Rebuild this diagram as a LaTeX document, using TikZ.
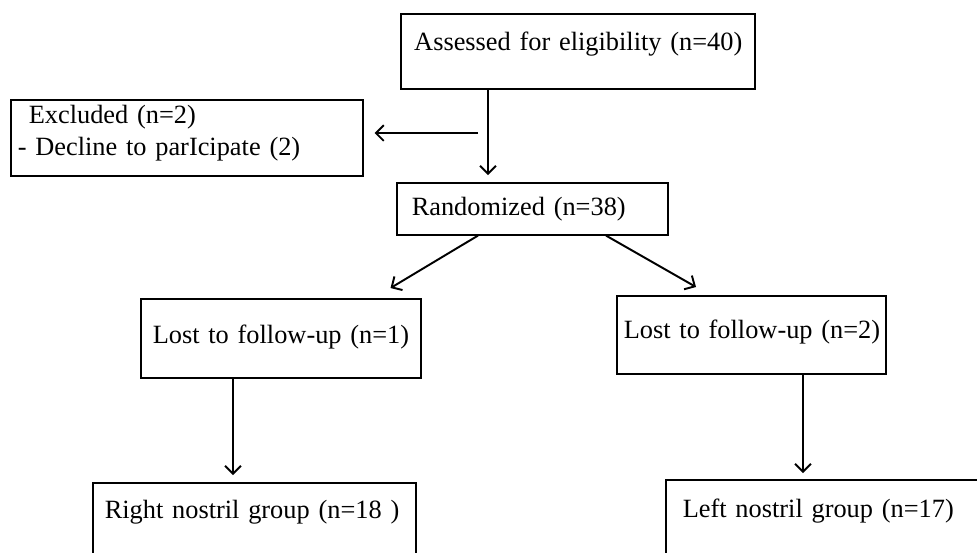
\documentclass[tikz,border=0pt]{standalone}
\usepackage{fontspec}
\setmainfont{Liberation Serif}
\usetikzlibrary{arrows.meta,calc}

\begin{document}
\begin{tikzpicture}[x=0.02cm, y=-0.02cm,
	box/.style={draw, line width=0.9pt, anchor=north west, inner ysep=0pt, inner xsep=0.04cm, align=left,
		font=\fontsize{15}{18.2}\selectfont, execute at begin node={\hspace*{#1}}},
	arr/.style={line width=1.1pt, -{Straight Barb[length=4.5pt,width=9pt]}}]
	\useasboundingbox (0,0) rectangle (977,552);
	\clip (0,0) rectangle (977,552);
	\node[box=0.22cm, line width=1.4pt, text width=7cm, text height=0.72cm, text depth=0.78cm] (assess) at (400,13) {Assessed for eligibility (n=40)};
	\node[box=0.1cm, text width=6.96cm, text height=0.48cm, text depth=1.04cm] (excl) at (10,99) {\hspace*{0.22cm}Excluded (n=2)\\\hspace*{0.1cm}- Decline to parIcipate (2)};
	\node[box=0.26cm, text width=5.34cm, text height=0.66cm, text depth=0.38cm] (rand) at (396,182) {Randomized (n=38)};
	\node[box=0.2cm, text width=5.52cm, text height=0.9cm, text depth=0.68cm] (lostL) at (140,298) {Lost to follow-up (n=1)};
	\node[box=0.1cm, text width=5.3cm, text height=0.86cm, text depth=0.7cm] (lostR) at (616,295) {Lost to follow-up (n=2)};
	\node[box=0.2cm, text width=6.38cm, text height=0.72cm, text depth=2cm] (rightG) at (92,482) {Right nostril group (n=18 )};
	\node[box=0.3cm, text width=6.42cm, text height=0.76cm, text depth=2cm] (leftG) at (665,479) {Left nostril group (n=17)};
	\coordinate (split) at (488,133);
	\coordinate (branch) at (478,133);
	\coordinate (rtop) at (233,482);
	\coordinate (ltop) at (803,479);
	\draw[arr, shorten >=0.14cm] (assess.south -| split) -- (rand.north -| split);
	\draw[arr, shorten >=0.22cm] (branch) -- (excl.east |- branch);
	\draw[arr] ($(rand.south west)+(82,0)$) -- ($(lostL.north east)+(-31,-10)$);
	\draw[arr] ($(rand.south west)+(210,0)$) -- ($(lostR.north west)+(80,-8)$);
	\draw[arr, shorten >=0.14cm] (lostL.south -| rtop) -- (rtop);
	\draw[arr, shorten >=0.12cm] (lostR.south -| ltop) -- (ltop);
\end{tikzpicture}
\end{document}
